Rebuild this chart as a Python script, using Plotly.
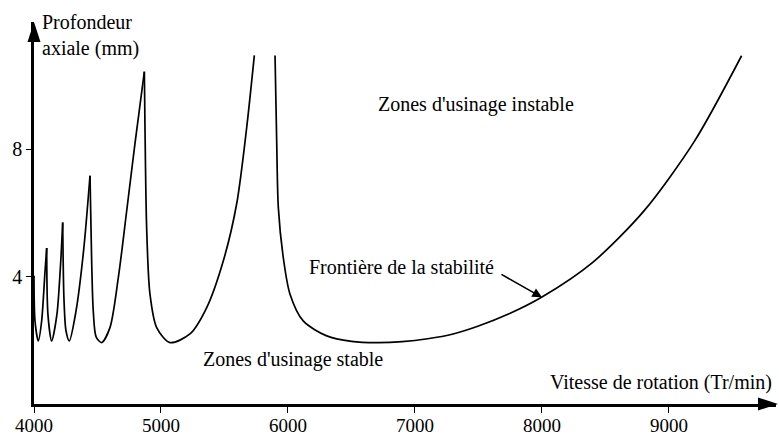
import plotly.graph_objects as go

# Stability lobes (speed in Tr/min, axial depth in mm)
lobe_speeds = [
    [4000, 4008, 4034, 4060, 4087, 4100],
    [4100, 4110, 4139, 4180, 4208, 4226],
    [4226, 4236, 4252, 4278, 4330, 4390, 4441],
    [4441, 4454, 4467, 4490, 4533, 4598, 4664, 4730, 4795, 4869],
    [4869, 4874, 4887, 4913, 4966, 5071, 5228, 5360, 5491, 5596, 5675, 5735],
    [5898, 5911, 5924, 5963, 6016, 6120, 6305, 6500, 6700, 6900, 7100, 7300,
     7500, 7750, 8000, 8400, 8800, 9200, 9572],
]
lobe_depths = [
    [4.03, 2.6, 1.98, 2.6, 4.18, 4.90],
    [4.90, 2.8, 1.98, 2.8, 4.3, 5.70],
    [5.70, 3.3, 2.3, 1.98, 2.9, 4.8, 7.17],
    [7.17, 4.5, 2.9, 2.1, 1.93, 2.40, 3.97, 6.07, 8.18, 10.44],
    [10.44, 8.69, 5.54, 3.46, 2.40, 1.93, 2.20, 3.03, 4.50, 6.29, 8.69, 10.95],
    [10.95, 8.27, 6.17, 4.60, 3.45, 2.61, 2.14, 1.97, 1.93, 1.96, 2.05, 2.2,
     2.45, 2.85, 3.36, 4.45, 6.05, 8.25, 10.94],
]
x_ticks = [4000, 5000, 6000, 7000, 8000, 9000]
y_ticks = [4, 8]

FONT = "Liberation Serif"
FS = 20

fig = go.Figure()
for xs, ys in zip(lobe_speeds, lobe_depths):
    fig.add_trace(go.Scatter(x=xs, y=ys, mode="lines",
                             line=dict(color="black", width=1.7, shape="spline", smoothing=0.8),
                             showlegend=False, hoverinfo="skip"))

fig.update_layout(
    width=779, height=435,
    margin=dict(l=34, r=3, t=22, b=31, autoexpand=False),
    paper_bgcolor="white", plot_bgcolor="white",
    font=dict(family=FONT, size=FS, color="black"),
    xaxis=dict(range=[4000, 9843], showgrid=False, zeroline=False, automargin=False,
               showline=True, linecolor="black", linewidth=2.5,
               tickvals=x_ticks, ticktext=[str(v) for v in x_ticks],
               ticks="outside", ticklen=6, tickwidth=1.2, tickcolor="black",
               ticklabelstandoff=-4,
               tickfont=dict(family=FONT, size=FS - 1, color="black")),
    yaxis=dict(range=[0, 12], showgrid=False, zeroline=False, automargin=False,
               showline=True, linecolor="black", linewidth=2.5,
               tickvals=y_ticks, ticktext=[str(v) for v in y_ticks],
               ticks="outside", ticklen=5, tickwidth=1.2, tickcolor="black",
               tickfont=dict(family=FONT, size=FS, color="black")),
)

# axis arrow heads
fig.add_shape(type="path", xref="paper", yref="paper", xsizemode="pixel", ysizemode="pixel",
              xanchor=1, yanchor=0, path="M2,0 L-18,6.5 L-18,-6.5 Z",
              fillcolor="black", line=dict(width=0))
fig.add_shape(type="path", xref="paper", yref="paper", xsizemode="pixel", ysizemode="pixel",
              xanchor=0, yanchor=1, path="M0,0 L-6.5,-20 L6.5,-20 Z",
              fillcolor="black", line=dict(width=0))

fig.add_annotation(x=4050, y=11.58, xref="x", yref="y", text="Profondeur<br>axiale (mm)",
                   showarrow=False, xanchor="left", yanchor="middle", align="left",
                   font=dict(family=FONT, size=FS, color="black"))
fig.add_annotation(x=1, y=0, xref="paper", yref="paper", yshift=8, xshift=-2,
                   text="Vitesse de rotation (Tr/min)", showarrow=False,
                   xanchor="right", yanchor="bottom",
                   font=dict(family=FONT, size=FS, color="black"))
fig.add_annotation(x=7480, y=9.41, text="Zones d'usinage instable", showarrow=False,
                   font=dict(family=FONT, size=FS, color="black"))
fig.add_annotation(x=6039, y=1.40, text="Zones d'usinage stable", showarrow=False,
                   font=dict(family=FONT, size=FS, color="black"))
fig.add_annotation(x=6890, y=4.29, text="Frontière de la stabilité", showarrow=False,
                   font=dict(family=FONT, size=FS, color="black"))
fig.add_annotation(x=8000, y=3.35, ax=7669, ay=4.10, axref="x", ayref="y", xref="x", yref="y",
                   text="", showarrow=True, arrowhead=2, arrowsize=1.2, arrowwidth=1.6,
                   arrowcolor="black", standoff=0, startstandoff=0)

fig.write_html("out.html", config={"displayModeBar": False},
               post_script="document.body.style.margin='0';")
